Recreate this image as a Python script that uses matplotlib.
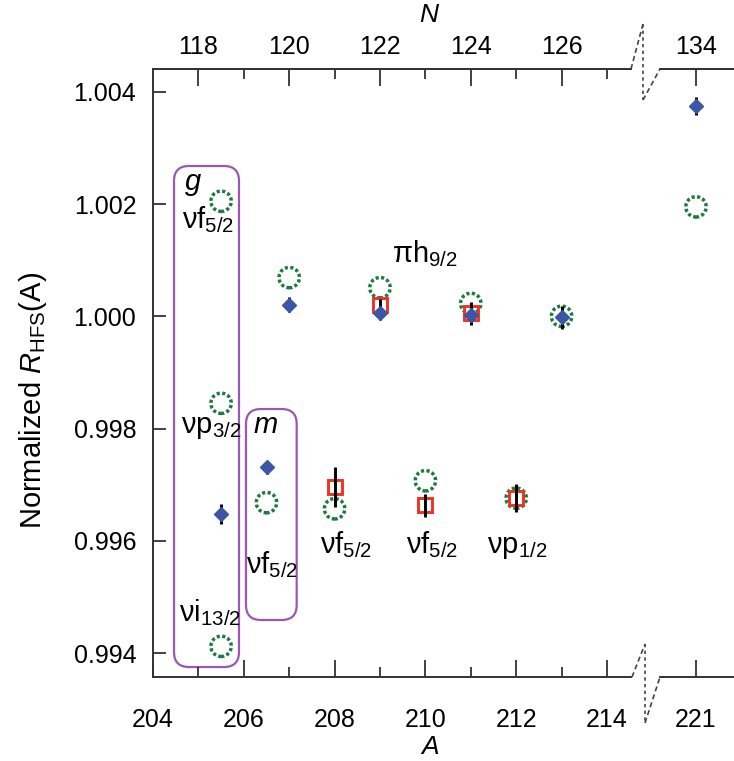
import matplotlib
matplotlib.use('Agg')
import matplotlib.pyplot as plt
from matplotlib.patches import FancyBboxPatch
from matplotlib.lines import Line2D
from matplotlib.ticker import FixedLocator

plt.rcParams['font.family'] = ['Liberation Sans', 'DejaVu Sans']
plt.rcParams['mathtext.fontset'] = 'custom'
plt.rcParams['mathtext.rm'] = 'Liberation Sans'
plt.rcParams['mathtext.it'] = 'Liberation Sans:italic'
plt.rcParams['mathtext.bf'] = 'Liberation Sans:bold'

# ---------------- data ----------------
Z = 87  # N = A - Z
theory_A = [205.5, 205.5, 205.5, 206.5, 207, 208, 209, 210, 211, 212, 213, 221]
theory_R = [1.00205, 0.99845, 0.99412, 0.99668, 1.00069, 0.99657, 1.00051,
            0.99707, 1.00023, 0.99676, 1.00000, 1.00195]

blue_A = [205.5, 206.5, 207, 209, 211, 213, 221]
blue_R = [0.99648, 0.99731, 1.00021, 1.00005, 1.00003, 0.99998, 1.00374]
blue_err = [0.00018, 0.00012, 0.00013, 0.00012, 0.00010, 0.00020, 0.00016]

red_A = [208, 209, 210, 211, 212]
red_R = [0.99696, 1.00021, 0.99663, 1.00005, 0.99676]
red_err = [0.00036, 0.00010, 0.00020, 0.00020, 0.00025]

A_major = [204, 206, 208, 210, 212, 214]
A_minor = [205, 207, 209, 211, 213]
A_break = [221]
N_major = [118, 120, 122, 124, 126]
N_minor = [119, 121, 123, 125, 127]
N_break = [134]
y_ticks = [0.994, 0.996, 0.998, 1.000, 1.002, 1.004]
y_labels = ['0.994', '0.996', '0.998', '1.000', '1.002', '1.004']

# ---------------- style ----------------
GREEN = '#1d7a40'
BLUE = '#3b56a6'
RED = '#ee3322'
PURPLE = '#9a58b5'
AXC = '#333333'
FS_TICK = 18
FS_LAB = 21

W, H = 734, 761
fig = plt.figure(figsize=(W / 100, H / 100), dpi=100)

x0, x1 = 153, 631
x2, x3 = 660, 734
ytop, ybot = 69, 677
pxA = 45.4           # pixels per unit A
pxR = 56125.0        # pixels per unit R

ax1 = fig.add_axes([x0 / W, 1 - ybot / H, (x1 - x0) / W, (ybot - ytop) / H])
ax2 = fig.add_axes([x2 / W, 1 - ybot / H, (x3 - x2) / W, (ybot - ytop) / H])

ylo = 1.0 - (ybot - 316.3) / pxR
yhi = 1.0 + (316.3 - ytop) / pxR
ax1.set_xlim(204, 204 + (x1 - x0) / pxA)
ax2.set_xlim(221 - (696 - x2) / pxA, 221 + (x3 - 696) / pxA)

for ax in (ax1, ax2):
    ax.set_ylim(ylo, yhi)
    ax.scatter(theory_A, theory_R, s=215, facecolors='none', edgecolors=GREEN,
               linewidths=2.5, linestyles=(0, (0.9, 0.7)), zorder=2.5)
    ax.plot(red_A, red_R, 's', ms=10.5, mfc='none', mec=RED, mew=2.1, ls='none', zorder=3)
    ax.errorbar(blue_A, blue_R, yerr=blue_err, fmt='none', ecolor='black',
                elinewidth=2.1, capsize=0, zorder=4)
    ax.errorbar(red_A, red_R, yerr=red_err, fmt='none', ecolor='black',
                elinewidth=2.1, capsize=0, zorder=4)
    ax.plot(blue_A, blue_R, 'D', ms=7, color=BLUE, mec=BLUE, ls='none', zorder=5)
    for s in ax.spines.values():
        s.set_color(AXC)
        s.set_linewidth(1.4)
    ax.spines['right'].set_visible(False)

ax2.spines['left'].set_visible(False)
ax2.set_yticks([])

# bottom axes ticks
ax1.set_xticks(A_major)
ax1.set_xticklabels([str(a) for a in A_major])
ax1.xaxis.set_minor_locator(FixedLocator(A_minor))
ax2.set_xticks(A_break)
ax2.set_xticklabels([str(a) for a in A_break])
for ax in (ax1, ax2):
    ax.tick_params(axis='x', which='major', direction='in', length=12, width=1.3,
                   color=AXC, labelsize=FS_TICK, pad=22, top=False)
    ax.tick_params(axis='x', which='minor', direction='in', length=7, width=1.3,
                   color=AXC, top=False)

ax1.set_yticks(y_ticks)
ax1.set_yticklabels(y_labels)
ax1.tick_params(axis='y', direction='in', length=9, width=1.3, color=AXC,
                labelsize=FS_TICK, pad=12)

# top axes (N)
fN = (lambda a: a - Z, lambda n: n + Z)
sec1 = ax1.secondary_xaxis('top', functions=fN)
sec1.set_xticks(N_major)
sec1.set_xticklabels([str(n) for n in N_major])
sec1.xaxis.set_minor_locator(FixedLocator(N_minor))
sec2 = ax2.secondary_xaxis('top', functions=fN)
sec2.set_xticks(N_break)
sec2.set_xticklabels([str(n) for n in N_break])
for sec in (sec1, sec2):
    sec.spines['top'].set_color(AXC)
    sec.spines['top'].set_linewidth(1.4)
    sec.tick_params(axis='x', which='major', direction='in', length=12, width=1.3,
                    color=AXC, labelsize=FS_TICK, pad=7)
    sec.tick_params(axis='x', which='minor', direction='in', length=7, width=1.3,
                    color=AXC)

# axis labels
fig.text(429 / W, 1 - 15 / H, 'N', fontsize=19, style='italic', ha='center', va='center')
fig.text(430 / W, 1 - 747 / H, 'A', fontsize=19, style='italic', ha='center', va='center')
fig.text(33 / W, 1 - 400 / H, r'Normalized $\mathit{R}_{\mathregular{HFS}}\mathregular{(A)}$',
         fontsize=21, rotation=90, ha='center', va='center')

# rounded boxes (annotation frames)
def rbox(ax, a0, a1, r0, r1, rad_px=15):
    rx = rad_px / pxA
    asp = pxA / pxR
    p = FancyBboxPatch((a0, r0), a1 - a0, r1 - r0,
                       boxstyle=f"round,pad=0,rounding_size={rx}",
                       mutation_aspect=asp, fc='none', ec=PURPLE, lw=1.6,
                       transform=ax.transData, clip_on=False, zorder=1)
    ax.add_patch(p)

rbox(ax1, 204.463, 205.894, 0.993751, 1.002678)
rbox(ax1, 206.048, 207.165, 0.994589, 0.998348)

# state labels
def lab(ax, a, r, s, **kw):
    ax.text(a, r, s, fontsize=FS_LAB, ha='left', va='baseline', zorder=6, **kw)

lab(ax1, 204.70, 1.00225, 'g', style='italic')
lab(ax1, 204.64, 1.00157, r'$\mathregular{νf_{5/2}}$')
lab(ax1, 209.26, 1.00097, r'$\mathregular{πh_{9/2}}$')
lab(ax1, 204.62, 0.99792, r'$\mathregular{νp_{3/2}}$')
lab(ax1, 204.58, 0.99456, r'$\mathregular{νi_{13/2}}$')
lab(ax1, 206.21, 0.99792, 'm', style='italic')
lab(ax1, 206.05, 0.99542, r'$\mathregular{νf_{5/2}}$')
lab(ax1, 207.68, 0.99578, r'$\mathregular{νf_{5/2}}$')
lab(ax1, 209.58, 0.99578, r'$\mathregular{νf_{5/2}}$')
lab(ax1, 211.35, 0.99578, r'$\mathregular{νp_{1/2}}$')

# axis break marks
def fl(xs, ys, ls):
    fig.add_artist(Line2D([x / W for x in xs], [1 - y / H for y in ys],
                          transform=fig.transFigure, color='#444444', lw=1.2, ls=ls))

fl([631, 643], [69, 24], (0, (3, 2)))
fl([643, 643], [24, 100], (0, (2, 2)))
fl([643, 660], [100, 69], (0, (3, 2)))
fl([632, 645], [677, 644], (0, (3, 2)))
fl([645, 645], [644, 723], (0, (2, 2)))
fl([645, 660], [723, 677], (0, (3, 2)))

fig.savefig('out.png', dpi=100)
